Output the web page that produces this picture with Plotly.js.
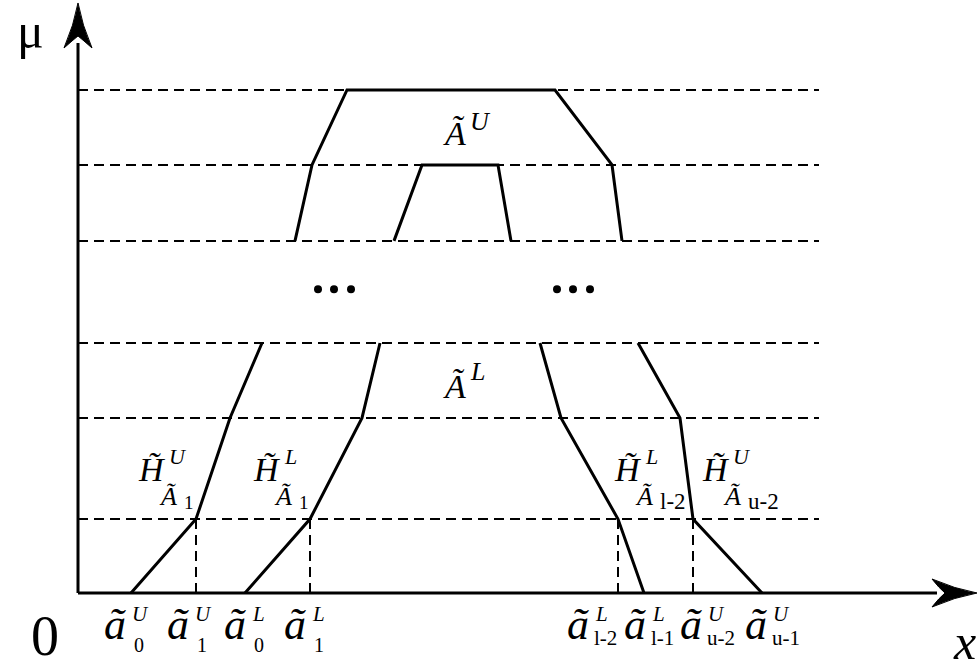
<!DOCTYPE html>
<html>
<head>
<meta charset="utf-8">
<script src="https://cdn.plot.ly/plotly-3.0.1.min.js"></script>
<style>
  html, body { margin: 0; padding: 0; background: #fff; }
  #chart { width: 977px; height: 669px; }
</style>
</head>
<body>
<div id="chart"></div>
<script>
// Membership levels (alpha-cuts) of the interval type-2 fuzzy set
const levels = [0.147, 0.348, 0.497, 0.700, 0.851, 1.0];

// Upper membership function Ã^U (drawn in three pieces, the middle levels are elided)
const upperLeftX   = [0.53, 1.18, 1.52, 1.84];
const upperLeftMu  = [0, 0.147, 0.348, 0.497];
const upperTopX    = [2.17, 2.34, 2.69, 4.77, 5.34, 5.44];
const upperTopMu   = [0.700, 0.851, 1.0, 1.0, 0.851, 0.700];
const upperRightX  = [5.60, 6.02, 6.15, 6.84];
const upperRightMu = [0.497, 0.348, 0.147, 0];

// Lower membership function Ã^L
const lowerLeftX   = [1.67, 2.32, 2.84, 3.02];
const lowerLeftMu  = [0, 0.147, 0.348, 0.497];
const lowerTopX    = [3.16, 3.44, 4.20, 4.33];
const lowerTopMu   = [0.700, 0.851, 0.851, 0.700];
const lowerRightX  = [4.62, 4.83, 5.40, 5.66];
const lowerRightMu = [0.497, 0.348, 0.147, 0];

// Points on the x axis and their labels
const tickX   = [0.53, 1.18, 1.67, 2.32, 5.40, 5.66, 6.15, 6.84];
const tickSup = ['U', 'U', 'L', 'L', 'L', 'L', 'U', 'U'];
const tickSub = ['0', '1', '0', '1', 'l-2', 'l-1', 'u-2', 'u-1'];

// Points whose projection is drawn down to the x axis
const dropX = [1.18, 2.32, 5.40, 6.15];

// Ellipsis marks between the lower and upper cuts
const dotsX  = [2.40, 2.56, 2.73, 4.79, 4.95, 5.12];
const dotsMu = [0.604, 0.604, 0.604, 0.604, 0.604, 0.604];

// Axis extent
const xAxisEnd = 8.99;
const yAxisEnd = 1.173;
const guideEnd = 7.41;

const SERIF = 'Liberation Serif, Times New Roman, Times, serif';
const BLACK = '#000';

// scale of the plot in data units per pixel
const X0 = -0.78, X1 = 8.99, Y0 = -0.1511, Y1 = 1.1789;
const PX = (X1 - X0) / 977, PY = (Y1 - Y0) / 669;

const traces = [];

// dashed horizontal guides at each level
const gx = [], gy = [];
levels.forEach(m => { gx.push(0, guideEnd, null); gy.push(m, m, null); });
// dashed drops from the first cut down to the axis
dropX.forEach(x => { gx.push(x, x, null); gy.push(0, levels[0], null); });
traces.push({x: gx, y: gy, mode: 'lines', hoverinfo: 'skip',
  line: {color: BLACK, width: 2, dash: '10px,6px'}});

// membership function pieces
[[upperLeftX, upperLeftMu], [upperTopX, upperTopMu], [upperRightX, upperRightMu],
 [lowerLeftX, lowerLeftMu], [lowerTopX, lowerTopMu], [lowerRightX, lowerRightMu]]
  .forEach(([xs, ys]) => traces.push({x: xs, y: ys, mode: 'lines', hoverinfo: 'skip',
    line: {color: BLACK, width: 3, shape: 'linear'}}));

// axes
traces.push({x: [0, xAxisEnd - 40 * PX], y: [0, 0], mode: 'lines', hoverinfo: 'skip',
  line: {color: BLACK, width: 3}});
traces.push({x: [0, 0], y: [0, yAxisEnd - 40 * PY], mode: 'lines', hoverinfo: 'skip',
  line: {color: BLACK, width: 3}});

// ellipsis
traces.push({x: dotsX, y: dotsMu, mode: 'markers', hoverinfo: 'skip',
  marker: {color: BLACK, size: 8}});

// arrowheads as filled paths, built from pixel offsets around the tip
function arrowPath(tx, ty, pts) {
  return pts.map(([cmd, ...xy]) => {
    let s = cmd;
    for (let i = 0; i < xy.length; i += 2) {
      s += (i ? ' ' : '') + (tx + xy[i] * PX).toFixed(4) + ',' + (ty - xy[i + 1] * PY).toFixed(4);
    }
    return s;
  }).join(' ') + ' Z';
}
const xArrow = arrowPath(xAxisEnd, 0, [
  ['M', 0, 0], ['Q', -22, -4, -45, -14], ['Q', -38, -5, -32, 0],
  ['Q', -38, 5, -45, 14], ['Q', -22, 4, 0, 0]]);
const yArrow = arrowPath(0, yAxisEnd, [
  ['M', 0, 0], ['Q', -4, 22, -14, 45], ['Q', -5, 37, 0, 33],
  ['Q', 5, 37, 14, 45], ['Q', 4, 22, 0, 0]]);
const shapes = [xArrow, yArrow].map(p => ({type: 'path', path: p, xref: 'x', yref: 'y',
  fillcolor: BLACK, line: {color: BLACK, width: 1}}));

// text helper: dx = horizontal pixel offset, base = baseline pixel offset below the anchor
function lab(x, y, dx, base, text, size, anchor, italic) {
  return {x: x, y: y, xref: 'x', yref: 'y', showarrow: false,
    text: italic ? '<i>' + text + '</i>' : text,
    font: {family: SERIF, size: size, color: BLACK},
    xanchor: anchor, yanchor: 'middle', borderpad: 0,
    xshift: dx, yshift: 0.3375 * size - base};
}

const annotations = [];

// x-axis point labels ã_sub^sup
const tickNudge = [-4, -6, 2, -3, -28, 3, 10, 6];
tickX.forEach((x, i) => {
  const wide = tickSub[i].length > 1;
  const d = tickNudge[i];
  annotations.push(lab(x, 0, d, 46, '\u00e3', 44, 'right', true));
  annotations.push(lab(x, 0, d + 4, 28, tickSup[i], 21, 'left', true));
  annotations.push(lab(x, 0, d + (wide ? 3 : 6), wide ? 52 : 59, tickSub[i], wide ? 21 : 20, 'left', false));
});

// H labels at the first cut
function hLabel(x, d, sup, sub) {
  const m = levels[0];
  annotations.push(lab(x, m, d, -38, 'H\u0303', 34, 'right', true));
  annotations.push(lab(x, m, d + 1, -55, sup, 22, 'left', true));
  annotations.push(lab(x, m, d - 9, -14, '\u00c3', 26, 'left', true));
  annotations.push(lab(x, m, d + 16, -10, sub, sub.length > 1 ? 23 : 19, 'left', false));
}
hLabel(tickX[1], -29, 'U', '1');
hLabel(tickX[3], -28, 'L', '1');
hLabel(tickX[4], 25, 'L', 'l-2');
hLabel(tickX[6], 38, 'U', 'u-2');

// Ã^U and Ã^L
const midUpper = (upperTopX[2] + upperTopX[3]) / 2;
const midLower = (lowerLeftX[3] + lowerRightX[0]) / 2;
annotations.push(lab(midUpper, 1.0, 16, 55, '\u00c3', 34, 'right', true));
annotations.push(lab(midUpper, 1.0, 18, 40, 'U', 26, 'left', true));
annotations.push(lab(midLower, levels[2], 7, 55, '\u00c3', 34, 'right', true));
annotations.push(lab(midLower, levels[2], 9, 37, 'L', 26, 'left', true));

// axis labels
annotations.push(lab(0, yAxisEnd, -33, 45, '\u03bc', 50, 'right', false));
annotations.push(lab(0, 0, -18, 62, '0', 56, 'right', false));
annotations.push(lab(xAxisEnd, 0, 0, 66, 'x', 50, 'right', true));

const layout = {
  width: 977, height: 669,
  margin: {l: 0, r: 0, t: 0, b: 0},
  paper_bgcolor: '#fff', plot_bgcolor: '#fff',
  showlegend: false,
  xaxis: {range: [X0, X1], visible: false, fixedrange: true},
  yaxis: {range: [Y0, Y1], visible: false, fixedrange: true},
  shapes: shapes,
  annotations: annotations
};

Plotly.newPlot('chart', traces, layout, {staticPlot: true, displayModeBar: false});
</script>
</body>
</html>
